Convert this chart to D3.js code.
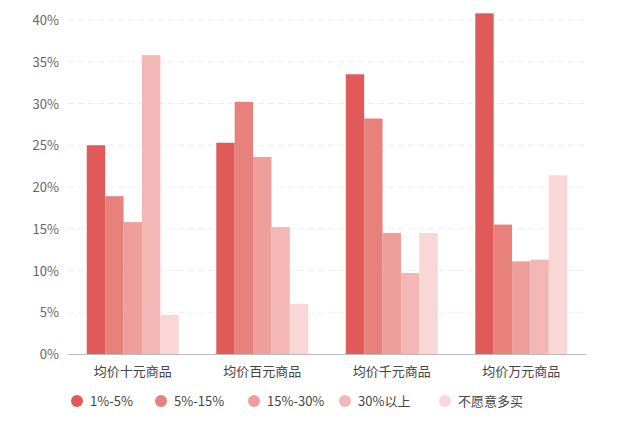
<!DOCTYPE html><html><head><meta charset="utf-8"><script src="https://cdn.jsdelivr.net/npm/d3@7"></script>
<style>body{margin:0;background:#fff;font-family:"Noto Sans CJK SC","Noto Sans",sans-serif}</style></head><body><svg id="c" width="640" height="423"></svg><script>
const categories=["均价十元商品","均价百元商品","均价千元商品","均价万元商品"];
const seriesNames=["1%-5%","5%-15%","15%-30%","30%以上","不愿意多买"];
const s1=[25.0,25.3,33.5,40.8];
const s2=[18.9,30.2,28.2,15.5];
const s3=[15.8,23.6,14.5,11.1];
const s4=[35.8,15.2,9.7,11.3];
const s5=[4.7,6.0,14.5,21.4];
const yTicks=[0,5,10,15,20,25,30,35,40];
const colors=["#e15a5a","#e8807c","#ee9e9b","#f3b8b6","#f8d7d6"];
const series=[s1,s2,s3,s4,s5];
const svg=d3.select("#c");
const x=d3.scaleBand().domain(categories).range([68,586]).paddingInner(0.29).paddingOuter(0.145);
const xs=d3.scaleBand().domain(d3.range(5)).range([0,x.bandwidth()]);
const y=d3.scaleLinear().domain([0,40]).range([354,20]);
svg.append("g").selectAll("line").data(yTicks.slice(1)).join("line").attr("x1",68).attr("x2",586).attr("y1",d=>y(d)).attr("y2",d=>y(d)).attr("stroke","#eee").attr("stroke-dasharray","6,4");
svg.append("g").selectAll("text").data(yTicks).join("text").attr("x",59).attr("y",d=>y(d)+5).attr("text-anchor","end").attr("font-size",13).attr("fill","#666").text(d=>d+"%");
series.forEach((s,i)=>{svg.append("g").selectAll("rect").data(s).join("rect").attr("x",(d,j)=>x(categories[j])+xs(i)).attr("width",xs.bandwidth()).attr("y",d=>y(d)).attr("height",d=>354-y(d)).attr("fill",colors[i]);});
svg.append("line").attr("x1",68).attr("x2",586).attr("y1",354.5).attr("y2",354.5).attr("stroke","#bbb");
svg.append("g").selectAll("text").data(categories).join("text").attr("x",d=>x(d)+x.bandwidth()/2).attr("y",376).attr("text-anchor","middle").attr("font-size",13).attr("fill","#444").text(d=>d);
const lx=[77,161,254,345,445];
const lg=svg.append("g").selectAll("g").data(seriesNames).join("g").attr("transform",(d,i)=>`translate(${lx[i]},401)`);
lg.append("circle").attr("r",6).attr("fill",(d,i)=>colors[i]);
lg.append("text").attr("x",13).attr("y",5).attr("font-size",13).attr("fill","#444").text(d=>d);
</script></body></html>
